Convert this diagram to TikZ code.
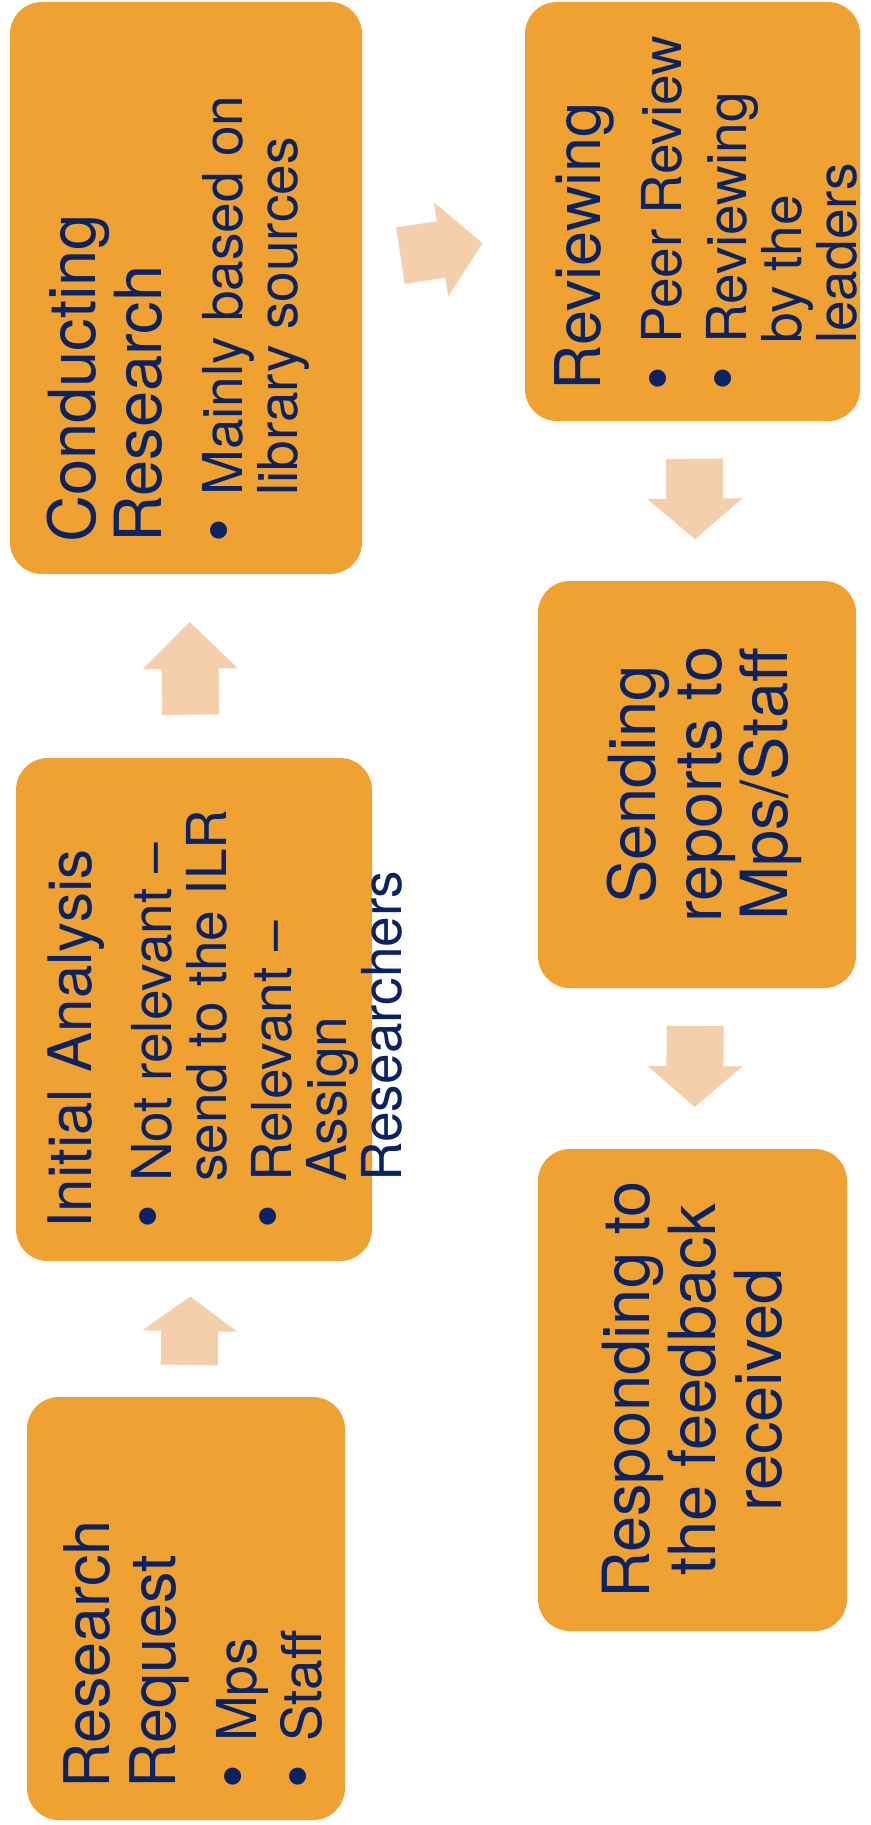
\documentclass[tikz,border=0pt]{standalone}
\usepackage{fontspec}
\setmainfont{TeX Gyre Heros}
\usetikzlibrary{calc}

\definecolor{boxorange}{HTML}{EFA231}
\definecolor{arrowpeach}{HTML}{F5CEAC}
\definecolor{textnavy}{HTML}{0B2363}

\newcommand\ttl[1]{\fontsize{#1}{66}\selectfont\spaceskip=0pt\xspaceskip=0pt}
\newcommand\dotb{{\fontsize{68}{68}\selectfont\textbullet}}
\newcommand\bitem[1]{\par\vspace{10pt}\fontsize{55}{55}\selectfont\spaceskip=0pt\xspaceskip=0pt\hangindent=47pt\hangafter=1\noindent\makebox[47pt][l]{\dotb}#1\par}

% block arrow between two stages
\newcommand\flowarrow[2]{%
  \path (#1) -- (#2) coordinate[pos=0.235] (s) coordinate[pos=0.485] (h) coordinate[pos=0.74] (t);
  \fill[arrowpeach] ($(s)!28.5pt!-90:(t)$) -- ($(h)!28.5pt!-90:(t)$) -- ($(h)!47.5pt!-90:(t)$) -- (t)
    -- ($(h)!47.5pt!90:(t)$) -- ($(h)!28.5pt!90:(t)$) -- ($(s)!28.5pt!90:(t)$) -- cycle;}

\begin{document}
\begin{tikzpicture}[x=1pt,y=1pt,
  stage/.style={fill=boxorange, rounded corners=32pt, inner sep=0pt},
  txt/.style={rotate=90, anchor=north west, inner sep=0pt, text width=470pt, align=left, text=textnavy},
  ctxt/.style={rotate=90, inner sep=0pt, align=center, text=textnavy, font=\ttl{65}}]

\useasboundingbox (0,0) rectangle (870,-1825);

% stages
\node[stage, minimum width=352, minimum height=572] (conduct) at (186,-288) {};
\node[stage, minimum width=335, minimum height=419] (review) at (692.5,-211.5) {};
\node[stage, minimum width=356, minimum height=503] (init) at (194,-1009.5) {};
\node[stage, minimum width=318, minimum height=407] (send) at (697,-784.5) {};
\node[stage, minimum width=318, minimum height=423] (request) at (186,-1608.5) {};
\node[stage, minimum width=309, minimum height=482] (respond) at (692.5,-1390) {};

\foreach \a/\b in {request/init, init/conduct, conduct/review, review/send, send/respond} {
  \flowarrow{\a}{\b}
}

% texts
\node[txt] (conduct-txt) at (47,-543) {\ttl{65}Conducting\\Research\par\vspace{16pt}
  \bitem{Mainly based on\newline library sources}};
\node[txt] (review-txt) at (554,-391) {\ttl{63}Reviewing\par\vspace{16pt}
  \bitem{Peer Review}
  \bitem{Reviewing\newline by the\newline leaders}};
\node[txt] (init-txt) at (48,-1229) {\ttl{60}Initial Analysis\par\vspace{15pt}
  \bitem{Not relevant \textendash\newline send to the ILR}
  \bitem{Relevant \textendash\newline Assign\newline Researchers}};
\node[txt] (request-txt) at (63,-1789) {\ttl{63}Research\\Request\par\vspace{16pt}
  \bitem{Mps}
  \bitem{Staff}};
\node[ctxt] (send-txt) at ($(send.center)+(7,0)$) {Sending\\reports to\\Mps/Staff};
\node[ctxt] (respond-txt) at (respond.center) {Responding to\\the feedback\\received};

\end{tikzpicture}
\end{document}
